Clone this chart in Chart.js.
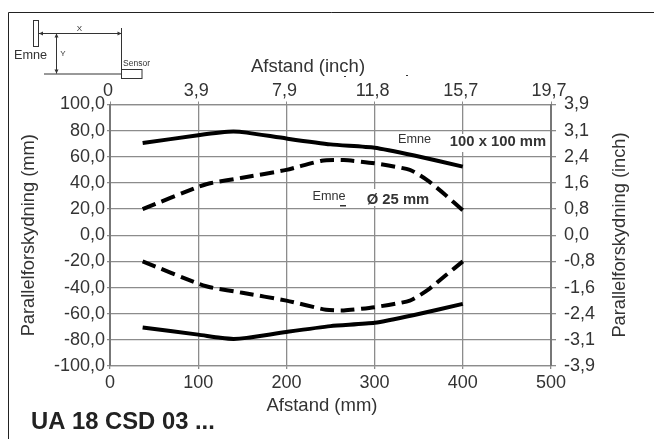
<!DOCTYPE html>
<html>
<head>
<meta charset="utf-8">
<script src="https://cdn.jsdelivr.net/npm/chart.js@4/dist/chart.umd.min.js"></script>
<style>
    html, body { margin: 0; padding: 0; background: #fff; }
    #wrap { width: 654px; height: 439px; }
</style>
</head>
<body>
<div id="wrap"><canvas id="chart" width="654" height="439"></canvas></div>
<script>
// values: [afstand mm, parallelforskydning mm]
const solidUpperX = [37, 100, 125, 140, 155, 200, 250, 300, 345, 400];
const solidUpperY = [70.5, 76.5, 78.6, 79.3, 78.5, 74, 69.5, 67, 61, 52.5];
const dashedUpperX = [37, 100, 115, 150, 200, 240, 265, 300, 340, 360, 380, 400];
const dashedUpperY = [20, 37, 40, 44, 50, 57, 57.5, 55, 50, 42, 31, 19];
const dashedLowerX = [37, 100, 115, 150, 200, 245, 265, 300, 340, 360, 380, 400];
const dashedLowerY = [-20, -37, -40, -44, -50, -57, -57.5, -55, -50, -42, -31, -20];
const solidLowerX = [37, 100, 125, 140, 155, 200, 250, 300, 345, 400];
const solidLowerY = [-70.5, -76, -78.4, -79.3, -78.5, -74, -69.5, -67, -61, -52.5];

const bottomTicks = ['0', '100', '200', '300', '400', '500'];
const topTicks = ['0', '3,9', '7,9', '11,8', '15,7', '19,7'];
const leftTicks = ['-100,0', '-80,0', '-60,0', '-40,0', '-20,0', '0,0', '20,0', '40,0', '60,0', '80,0', '100,0'];
const rightTicks = ['-3,9', '-3,1', '-2,4', '-1,6', '-0,8', '0,0', '0,8', '1,6', '2,4', '3,1', '3,9'];

const FONT = '"Liberation Sans", Arial, sans-serif';
const TEXT = '#333';
const GRID = '#8c8c8c';

function toPoints(xs, ys) {
    return xs.map((x, i) => ({ x: x, y: ys[i] }));
}

function line(xs, ys, dash) {
    return {
        data: toPoints(xs, ys),
        borderColor: '#000',
        borderWidth: 4,
        borderDash: dash,
        pointRadius: 0,
        tension: 0.2,
        fill: false
    };
}

function label(ctx, text, x, y, size, bold, align) {
    ctx.font = (bold ? 'bold ' : '') + size + 'px ' + FONT;
    ctx.textAlign = align || 'center';
    ctx.textBaseline = 'middle';
    ctx.fillText(text, x, y);
}

function arrow(ctx, x, y, dx, dy) {
    ctx.beginPath();
    ctx.moveTo(x, y);
    ctx.lineTo(x + dx * 4 + dy * 2, y + dy * 4 + dx * 2);
    ctx.lineTo(x + dx * 4 - dy * 2, y + dy * 4 - dx * 2);
    ctx.closePath();
    ctx.fill();
}

// white patches behind the two curve labels, they hide the grid
const maskPlugin = {
    id: 'masks',
    beforeDatasetsDraw(chart) {
        const ctx = chart.ctx;
        ctx.save();
        ctx.fillStyle = '#fff';
        ctx.fillRect(449, 134, 99, 18);
        ctx.fillRect(312, 189, 120, 17);
        ctx.restore();
    }
};

// frame, sensor sketch, titles and curve labels
const notesPlugin = {
    id: 'notes',
    afterDraw(chart) {
        const ctx = chart.ctx;
        ctx.save();

        ctx.strokeStyle = '#222';
        ctx.lineWidth = 1;
        ctx.beginPath();
        ctx.moveTo(8.5, 439);
        ctx.lineTo(8.5, 12.5);
        ctx.lineTo(654, 12.5);
        ctx.stroke();

        // sketch
        ctx.strokeStyle = '#333';
        ctx.fillStyle = '#333';
        ctx.lineWidth = 1;
        ctx.strokeRect(33.5, 20.5, 5, 26);
        ctx.beginPath();
        ctx.moveTo(39, 33.5); ctx.lineTo(121.5, 33.5);
        ctx.moveTo(121.5, 28); ctx.lineTo(121.5, 74);
        ctx.moveTo(56.5, 33.5); ctx.lineTo(56.5, 73.5);
        ctx.moveTo(44, 74); ctx.lineTo(121.5, 74);
        ctx.stroke();
        ctx.strokeRect(121.5, 69.5, 20.5, 9);
        arrow(ctx, 39, 33.5, 1, 0);
        arrow(ctx, 121.5, 33.5, -1, 0);
        arrow(ctx, 56.5, 33.5, 0, 1);
        arrow(ctx, 56.5, 73.5, 0, -1);

        label(ctx, 'Emne', 30.5, 55, 12.7);
        label(ctx, 'X', 79.5, 29, 8);
        label(ctx, 'Y', 63, 54, 8);
        label(ctx, 'Sensor', 136.5, 64, 8.5);

        // axis titles
        label(ctx, 'Afstand (inch)', 308, 66.5, 18.5);
        label(ctx, 'Afstand (mm)', 322, 406, 18.5);
        ctx.save();
        ctx.translate(619.5, 235);
        ctx.rotate(-Math.PI / 2);
        label(ctx, 'Parallelforskydning (inch)', 0, 0, 18.3);
        ctx.restore();

        // curve labels
        label(ctx, 'Emne', 414.5, 139, 12.7);
        label(ctx, '100 x 100 mm', 498, 142, 14.8, true);
        label(ctx, 'Emne', 329, 196, 12.7);
        label(ctx, 'Ø 25 mm', 398, 200, 14.8, true);

        // specks from the scan
        ctx.fillRect(406, 75, 2, 1);
        ctx.fillRect(344, 76, 2, 1);
        ctx.fillRect(340, 205, 6, 1.5);

        // model name
        ctx.fillStyle = '#222';
        label(ctx, 'UA 18 CSD 03 ...', 31, 422, 23.8, true, 'left');

        ctx.restore();
    }
};

new Chart(document.getElementById('chart'), {
    type: 'line',
    data: {
        datasets: [
            line(solidUpperX, solidUpperY, []),
            line(dashedUpperX, dashedUpperY, [14, 6.5]),
            line(dashedLowerX, dashedLowerY, [14, 6.5]),
            line(solidLowerX, solidLowerY, [])
        ]
    },
    options: {
        responsive: false,
        animation: false,
        devicePixelRatio: 1,
        layout: { padding: { left: 18, right: 0, top: 0, bottom: 0 } },
        plugins: { legend: { display: false }, tooltip: { enabled: false } },
        scales: {
            x: {
                type: 'linear',
                position: 'bottom',
                min: 0,
                max: 500,
                afterBuildTicks(axis) { axis.ticks = bottomTicks.map((t, i) => ({ value: i * 100 })); },
                afterFit(axis) { axis.height = 73; },
                grid: { color: GRID, lineWidth: 1.3, tickLength: 3 },
                border: { color: GRID, width: 1.3 },
                ticks: {
                    color: TEXT,
                    font: { family: FONT, size: 18 },
                    padding: 3,
                    maxRotation: 0,
                    autoSkip: false,
                    callback: (v, i) => bottomTicks[i]
                }
            },
            xTop: {
                type: 'linear',
                position: 'top',
                min: 0,
                max: 500,
                afterBuildTicks(axis) { axis.ticks = topTicks.map((t, i) => ({ value: i * 100 })); },
                afterFit(axis) { axis.height = 104.5; },
                grid: { drawOnChartArea: false, color: GRID, tickLength: 3 },
                border: { color: GRID, width: 1.3 },
                ticks: {
                    color: TEXT,
                    font: { family: FONT, size: 18 },
                    padding: 0,
                    labelOffset: -2,
                    maxRotation: 0,
                    autoSkip: false,
                    callback: (v, i) => topTicks[i]
                }
            },
            y: {
                type: 'linear',
                position: 'left',
                min: -100,
                max: 100,
                afterBuildTicks(axis) { axis.ticks = leftTicks.map((t, i) => ({ value: -100 + i * 20 })); },
                afterFit(axis) { axis.width = 92; },
                grid: { color: GRID, lineWidth: 1.3, tickLength: 3 },
                border: { color: '#777', width: 2 },
                title: {
                    display: true,
                    text: 'Parallelforskydning (mm)',
                    color: TEXT,
                    font: { family: FONT, size: 18.3 },
                    padding: 0
                },
                ticks: {
                    color: TEXT,
                    font: { family: FONT, size: 18 },
                    padding: 2,
                    autoSkip: false,
                    callback: (v, i) => leftTicks[i]
                }
            },
            yRight: {
                type: 'linear',
                position: 'right',
                min: -100,
                max: 100,
                afterBuildTicks(axis) { axis.ticks = rightTicks.map((t, i) => ({ value: -100 + i * 20 })); },
                afterFit(axis) { axis.width = 103; },
                grid: { drawOnChartArea: false, color: GRID, lineWidth: 1.3, tickLength: 5 },
                border: { color: '#777', width: 2 },
                ticks: {
                    color: TEXT,
                    font: { family: FONT, size: 18 },
                    padding: 8,
                    autoSkip: false,
                    callback: (v, i) => rightTicks[i]
                }
            }
        }
    },
    plugins: [maskPlugin, notesPlugin]
});
</script>
</body>
</html>
